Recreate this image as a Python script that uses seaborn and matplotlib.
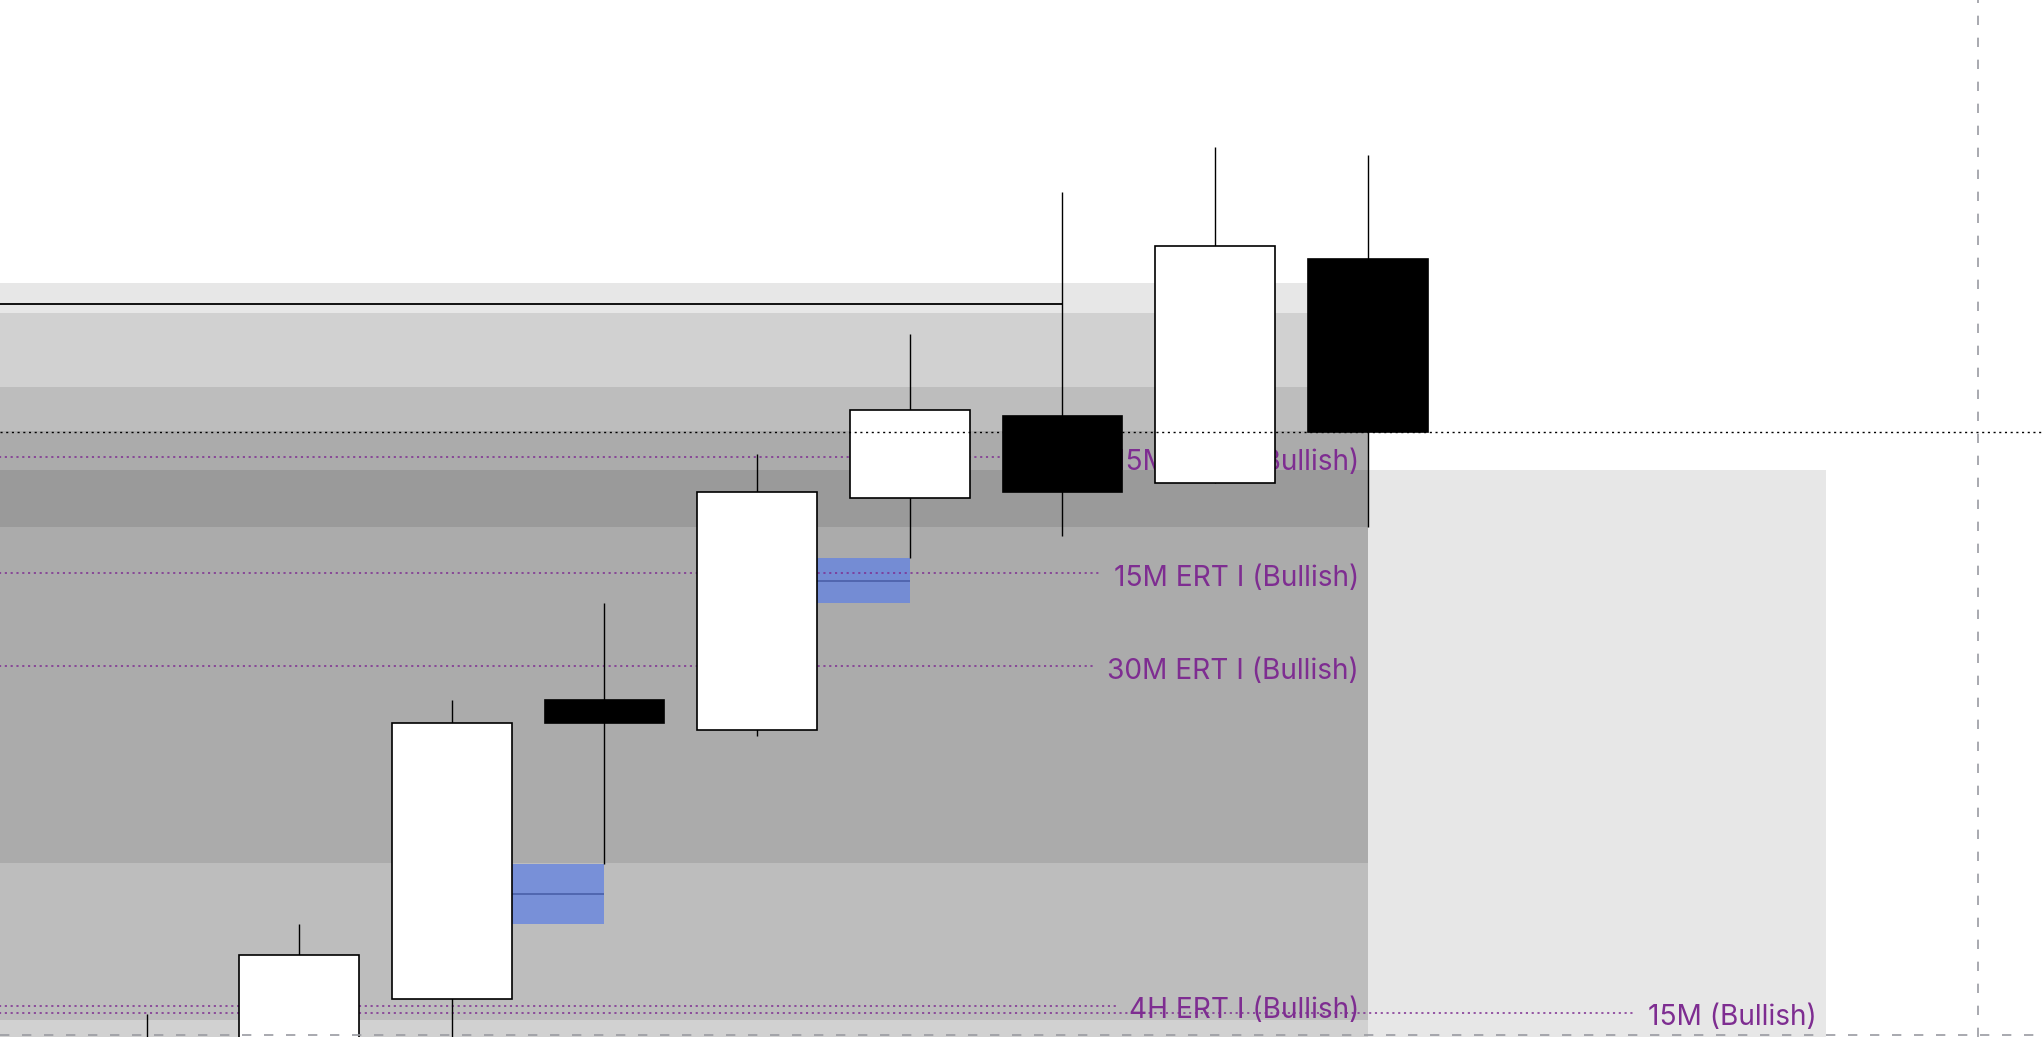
import numpy as np
import pandas as pd
import seaborn as sns
import matplotlib.pyplot as plt
from matplotlib.patches import Rectangle

# candles, one per bar index 0..8 (prices)
opens = [2397.0, 2398.5, 2403.8, 2433.7, 2430.7, 2453.9, 2462.1, 2455.4, 2477.8]
highs = [2402.3, 2411.3, 2433.7, 2443.4, 2458.3, 2470.3, 2484.5, 2489.0, 2488.2]
lows = [2394.0, 2396.0, 2399.0, 2417.3, 2430.1, 2447.9, 2450.1, 2455.4, 2451.0]
closes = [2399.5, 2408.2, 2431.4, 2431.4, 2454.5, 2462.7, 2454.5, 2479.1, 2460.5]

# shaded zones (stacked translucent bands)
zone_tops = [2475.4, 2472.4, 2465.0, 2460.6, 2456.7]
zone_bottoms = [2390.0, 2401.7, 2417.4, 2451.0, 2390.0]
zone_ends = [8, 8, 8, 8, 11]

# ERT levels
ert_levels = [2458.0, 2446.4, 2437.1, 2403.1, 2402.4]
ert_labels = ["15M ERT I (Bullish)", "15M ERT I (Bullish)", "30M ERT I (Bullish)",
              "4H ERT I (Bullish)", "15M (Bullish)"]
ert_ends = [8, 8, 8, 8, 11]

swing_level = 2473.3
swing_end = 6
cross_x = 12
cross_y = 2400.2

df = pd.DataFrame({'open': opens, 'high': highs, 'low': lows, 'close': closes})
df['idx'] = np.arange(len(df))

sns.set_theme(style='white')
plt.rcParams['font.family'] = ['Inter', 'DejaVu Sans']

fig = plt.figure(figsize=(20.44, 10.378), dpi=100)
ax = fig.add_axes([0, 0, 1, 1])
ax.set_axis_off()
ax.set_xlim(-0.96, 12.43)
ax.set_ylim(2400.0, 2503.8)

x_left = -2

# gray zones
for top, bot, end in zip(zone_tops, zone_bottoms, zone_ends):
    ax.add_patch(Rectangle((x_left, bot), end - x_left, top - bot,
                           facecolor='black', alpha=0.096, lw=0, zorder=1))

# fair value gaps derived from candles
for i in range(1, len(df) - 1):
    lo_gap = df['high'][i - 1]
    hi_gap = df['low'][i + 1]
    if hi_gap > lo_gap:
        ax.add_patch(Rectangle((i, lo_gap), 1, hi_gap - lo_gap,
                               facecolor='#6785df', alpha=0.8, lw=0, zorder=2))
        ax.hlines((lo_gap + hi_gap) / 2, i, i + 1, color='#4a5fa8', lw=1.2, zorder=2.1)

# ERT labels, then dotted lines that stop before the label
purple = '#7e2d91'
texts = []
for lvl, lab, end in zip(ert_levels, ert_labels, ert_ends):
    t = ax.annotate(lab, (end, lvl), xytext=(-6.2, -8.4), textcoords='offset points',
                    ha='right', va='baseline', color=purple, fontsize=20.2, zorder=3)
    texts.append(t)

fig.canvas.draw()
inv = ax.transData.inverted()
for t, lvl in zip(texts, ert_levels):
    bb = t.get_window_extent()
    x_end = inv.transform((bb.x0 - 13, 0))[0]
    ax.hlines(lvl, x_left, x_end, color=purple, lw=1.1,
              linestyle=(0, (1.4, 2.4)), zorder=3)

# swing level
ax.hlines(swing_level, x_left, swing_end, color='black', lw=1.3, zorder=3)

# candles
for _, r in df.iterrows():
    i = r['idx']
    ax.vlines(i, r['low'], r['high'], color='black', lw=1.0, zorder=4)
    bull = r['close'] >= r['open']
    ax.add_patch(Rectangle((i - 0.3925, min(r['open'], r['close'])), 0.785,
                           abs(r['close'] - r['open']),
                           facecolor='white' if bull else 'black',
                           edgecolor='black', lw=1.2, zorder=4.5))

# last price
ax.axhline(df['close'].iloc[-1], color='black', lw=1.0,
           linestyle=(0, (1.5, 2.6)), zorder=5)

# crosshair
ax.axvline(cross_x, color='#9a9ba2', lw=1.2, linestyle=(0, (5.6, 7.6)), zorder=6)
ax.axhline(cross_y, color='#9a9ba2', lw=1.2, linestyle=(0, (5.6, 7.6)), zorder=6)

fig.savefig('out.png', dpi=100, facecolor='white')
